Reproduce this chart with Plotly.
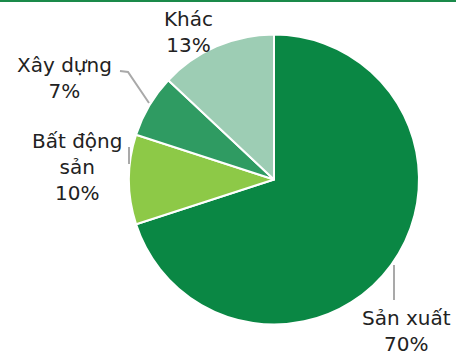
import plotly.graph_objects as go

# Loan portfolio breakdown by sector
sectors = ["Sản xuất", "Bất động sản", "Xây dựng", "Khác"]
shares = [70, 10, 7, 13]
colors = ["#0a8744", "#8dc947", "#2f9b62", "#9dcdb4"]

W, H = 456, 355


def px(x):
    return x / W


def py(y):
    return 1 - y / H


fig = go.Figure(
    go.Pie(
        labels=sectors,
        values=shares,
        sort=False,
        direction="clockwise",
        rotation=0,
        marker=dict(colors=colors, line=dict(color="white", width=2)),
        textinfo="none",
        hoverinfo="label+percent",
        domain=dict(x=[px(129), px(419)], y=[py(325), py(34)]),
        showlegend=False,
    )
)

# Label text for each slice: name on top, share below
label_text = {
    "Sản xuất": "Sản xuất<br>{}%",
    "Bất động sản": "Bất động<br>sản<br>{}%",
    "Xây dựng": "Xây dựng<br>{}%",
    "Khác": "Khác<br>{}%",
}
label_pos = {
    "Sản xuất": (406, 331),
    "Bất động sản": (77, 167),
    "Xây dựng": (64, 78),
    "Khác": (188, 32),
}
for name, val in zip(sectors, shares):
    x, y = label_pos[name]
    fig.add_annotation(
        x=px(x), y=py(y), xref="paper", yref="paper",
        text=label_text[name].format(val),
        showarrow=False, xanchor="center", yanchor="middle",
        font=dict(family="Verdana, DejaVu Sans, sans-serif", size=20, color="#222222"),
    )

# Leader lines
leader = dict(color="#a9a9a9", width=2)
fig.add_shape(type="path", xref="paper", yref="paper",
              path=f"M {px(120)} {py(71)} L {px(128)} {py(72)} L {px(149)} {py(103)}",
              line=leader)
fig.add_shape(type="line", xref="paper", yref="paper",
              x0=px(129), y0=py(147), x1=px(129), y1=py(164), line=leader)
fig.add_shape(type="line", xref="paper", yref="paper",
              x0=px(394), y0=py(265), x1=px(394), y1=py(300), line=leader)

# Green rule along the top edge
fig.add_shape(type="line", xref="paper", yref="paper",
              x0=0, y0=py(1), x1=1, y1=py(1), line=dict(color="#1a8a4a", width=2))

fig.update_layout(
    width=W, height=H,
    margin=dict(l=0, r=0, t=0, b=0),
    paper_bgcolor="white",
    plot_bgcolor="white",
)

fig.write_html("out.html")
